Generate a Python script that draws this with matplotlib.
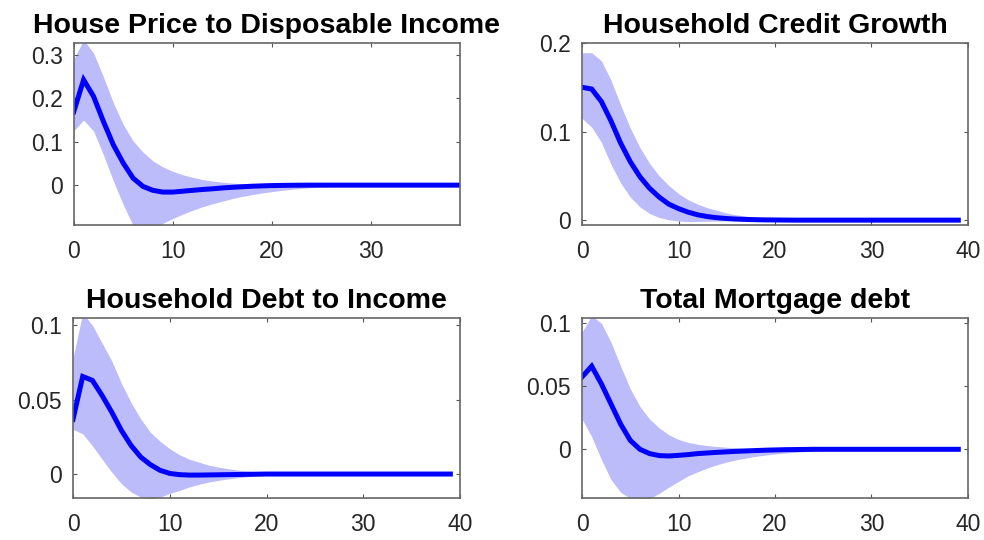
import matplotlib
matplotlib.use("Agg")
import matplotlib.pyplot as plt
import numpy as np

plt.rcParams['font.family'] = ['Liberation Sans', 'DejaVu Sans']

horizon = np.arange(40)

# House Price to Disposable Income
hp_med = [0.169, 0.243, 0.205, 0.147, 0.093, 0.051, 0.016, -0.003, -0.012, -0.016,
          -0.016, -0.014, -0.012, -0.010, -0.0085, -0.0065, -0.005, -0.0037, -0.0025, -0.0017,
          -0.001, -0.0006, -0.0003, -0.0001, 0, 0, 0, 0, 0, 0,
          0, 0, 0, 0, 0, 0, 0, 0, 0, 0]
hp_hi = [0.29, 0.335, 0.305, 0.25, 0.19, 0.14, 0.102, 0.076, 0.056, 0.042,
         0.032, 0.024, 0.018, 0.013, 0.0095, 0.0068, 0.0047, 0.0031, 0.002, 0.0012,
         0.0007, 0.0003, 0.0001, 0, 0, 0, 0, 0, 0, 0,
         0, 0, 0, 0, 0, 0, 0, 0, 0, 0]
hp_lo = [0.125, 0.15, 0.125, 0.07, 0.01, -0.045, -0.093, -0.102, -0.098, -0.088,
         -0.077, -0.067, -0.058, -0.05, -0.043, -0.037, -0.031, -0.026, -0.022, -0.018,
         -0.015, -0.012, -0.0095, -0.0075, -0.0058, -0.0044, -0.0033, -0.0024, -0.0017, -0.0012,
         -0.0008, -0.0005, -0.0002, 0, 0, 0, 0, 0, 0, 0]

# Household Credit Growth
cg_med = [0.150, 0.148, 0.134, 0.112, 0.087, 0.066, 0.049, 0.036, 0.026, 0.018,
          0.013, 0.009, 0.006, 0.004, 0.0027, 0.0018, 0.0012, 0.0008, 0.0005, 0.0003,
          0.0002, 0.0001, 0, 0, 0, 0, 0, 0, 0, 0,
          0, 0, 0, 0, 0, 0, 0, 0, 0, 0]
cg_hi = [0.189, 0.189, 0.18, 0.158, 0.13, 0.104, 0.082, 0.064, 0.05, 0.039,
         0.03, 0.023, 0.018, 0.014, 0.011, 0.008, 0.006, 0.0045, 0.0033, 0.0024,
         0.0017, 0.0012, 0.0008, 0.0005, 0.0003, 0.0002, 0.0001, 0, 0, 0,
         0, 0, 0, 0, 0, 0, 0, 0, 0, 0]
cg_lo = [0.115, 0.105, 0.088, 0.063, 0.042, 0.026, 0.015, 0.0075, 0.003, 0.0005,
         -0.001, -0.0015, -0.0015, -0.0013, -0.001, -0.0008, -0.0006, -0.0004, -0.0003, -0.0002,
         -0.0001, 0, 0, 0, 0, 0, 0, 0, 0, 0,
         0, 0, 0, 0, 0, 0, 0, 0, 0, 0]

# Household Debt to Income
dti_med = [0.0367, 0.0655, 0.0629, 0.0528, 0.0416, 0.0293, 0.0192, 0.0114, 0.0063, 0.0025,
           0.0004, -0.0004, -0.0007, -0.0007, -0.0006, -0.0005, -0.0004, -0.0003, -0.0002, -0.0001,
           0, 0, 0, 0, 0, 0, 0, 0, 0, 0,
           0, 0, 0, 0, 0, 0, 0, 0, 0, 0]
dti_hi = [0.078, 0.108, 0.1, 0.088, 0.076, 0.061, 0.048, 0.037, 0.028, 0.022,
          0.017, 0.013, 0.010, 0.008, 0.006, 0.0047, 0.0036, 0.0027, 0.002, 0.0014,
          0.001, 0.0007, 0.0004, 0.0002, 0.0001, 0, 0, 0, 0, 0,
          0, 0, 0, 0, 0, 0, 0, 0, 0, 0]
dti_lo = [0.03, 0.027, 0.019, 0.010, 0.0013, -0.0065, -0.012, -0.0155, -0.0165, -0.0155,
          -0.013, -0.011, -0.0087, -0.0069, -0.0054, -0.0043, -0.0033, -0.0025, -0.0018, -0.0013,
          -0.0009, -0.0006, -0.0004, -0.0002, -0.0001, 0, 0, 0, 0, 0,
          0, 0, 0, 0, 0, 0, 0, 0, 0, 0]

# Total Mortgage debt
md_med = [0.0574, 0.0659, 0.052, 0.036, 0.020, 0.0071, 0.0, -0.0034, -0.005, -0.0053,
          -0.0048, -0.0042, -0.0034, -0.0029, -0.0024, -0.002, -0.0016, -0.0013, -0.001, -0.0007,
          -0.0005, -0.0003, -0.0002, -0.0001, 0, 0, 0, 0, 0, 0,
          0, 0, 0, 0, 0, 0, 0, 0, 0, 0]
md_hi = [0.093, 0.106, 0.1, 0.085, 0.066, 0.048, 0.034, 0.024, 0.017, 0.0115,
         0.0078, 0.0055, 0.004, 0.003, 0.0022, 0.0016, 0.0012, 0.0008, 0.0005, 0.0003,
         0.0002, 0.0001, 0, 0, 0, 0, 0, 0, 0, 0,
         0, 0, 0, 0, 0, 0, 0, 0, 0, 0]
md_lo = [0.024, 0.01, -0.008, -0.024, -0.034, -0.039, -0.040, -0.039, -0.035, -0.030,
         -0.0255, -0.021, -0.0178, -0.0148, -0.0122, -0.0101, -0.0083, -0.0069, -0.0056, -0.0046,
         -0.0037, -0.003, -0.0024, -0.0019, -0.0015, -0.0012, -0.0009, -0.0007, -0.0005, -0.0003,
         -0.0002, -0.0001, 0, 0, 0, 0, 0, 0, 0, 0]

titles = ["House Price to Disposable Income", "Household Credit Growth",
          "Household Debt to Income", "Total Mortgage debt"]
medians = [hp_med, cg_med, dti_med, md_med]
uppers = [hp_hi, cg_hi, dti_hi, md_hi]
lowers = [hp_lo, cg_lo, dti_lo, md_lo]

xlims = [(0, 39), (0, 40), (0, 40), (0, 40)]
ylims = [(-0.092, 0.328), (-0.0055, 0.2), (-0.0159, 0.105), (-0.0384, 0.1044)]
xticks = [[0, 10, 20, 30], [0, 10, 20, 30, 40], [0, 10, 20, 30, 40], [0, 10, 20, 30, 40]]
yticks = [[0, 0.1, 0.2, 0.3], [0, 0.1, 0.2], [0, 0.05, 0.1], [0, 0.05, 0.1]]
ytick_labels = [["0", "0.1", "0.2", "0.3"], ["0", "0.1", "0.2"],
                ["0", "0.05", "0.1"], ["0", "0.05", "0.1"]]

# axes boxes in figure fractions: left, bottom, width, height
boxes = [[0.0749, 0.5833, 0.3926, 0.3371],
         [0.5915, 0.5833, 0.3922, 0.3371],
         [0.0742, 0.0783, 0.3933, 0.3334],
         [0.5915, 0.0783, 0.3922, 0.3334]]

fig = plt.figure(figsize=(9.84, 5.4), dpi=100)

for i in range(4):
    ax = fig.add_axes(boxes[i])
    ax.fill_between(horizon, lowers[i], uppers[i], color='#bcbcfa', linewidth=0)
    ax.plot(horizon, medians[i], color='#0000ff', linewidth=3.6, solid_joinstyle='miter')

    ax.set_xlim(xlims[i])
    ax.set_ylim(ylims[i])
    ax.set_xticks(xticks[i])
    ax.set_yticks(yticks[i])
    ax.set_yticklabels(ytick_labels[i])
    ax.set_title(titles[i], fontsize=20.5, fontweight='bold', pad=7)

    ax.tick_params(direction='in', length=3, width=0.8, color='#555555',
                   top=True, right=True, labelsize=16.5, labelcolor='#262626')
    ax.tick_params(axis='x', pad=11)
    ax.tick_params(axis='y', pad=8)
    for sp in ax.spines.values():
        sp.set_color('#666666')
        sp.set_linewidth(1.2)

plt.savefig("out.png", dpi=100)
